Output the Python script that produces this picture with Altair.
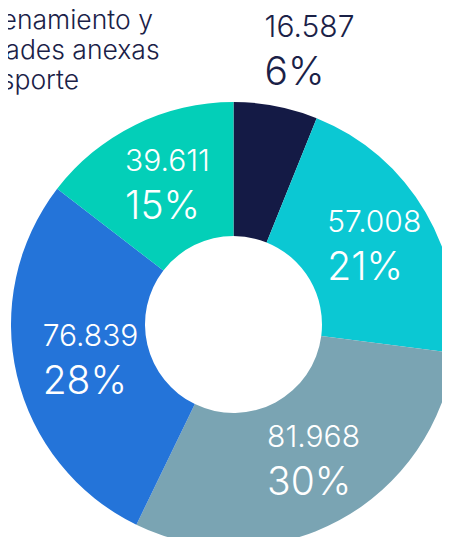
import altair as alt
import pandas as pd

# ---- data ----
order_idx = [0, 1, 2, 3, 4]
values = [16587, 57008, 81968, 76839, 39611]
num_labels = ["16.587", "57.008", "81.968", "76.839", "39.611"]
pct_labels = ["6%", "21%", "30%", "28%", "15%"]
colors = ["#141a45", "#0bc8d3", "#7aa4b3", "#2474d9", "#03cfb8"]
category_lines = ["Almacenamiento y", "actividades anexas", "al transporte"]

FONT = "Inter"
NAVY = "#1a2147"

df = pd.DataFrame({"idx": order_idx, "value": values, "num": num_labels, "pct": pct_labels})

base = alt.Chart(df).encode(
    theta=alt.Theta("value:Q", stack=True),
    order=alt.Order("idx:Q"),
    x=alt.value(225.5),
    y=alt.value(316.5),
)

arcs = base.mark_arc(innerRadius=88.5, outerRadius=222.5).encode(
    color=alt.Color("idx:N", scale=alt.Scale(domain=order_idx, range=colors), legend=None)
)

inner_num = base.transform_calculate(t="datum.idx == 0 ? '' : datum.num").mark_text(
    radius=155, align="left", baseline="alphabetic", dx=-40, dy=-14,
    fontSize=30, font=FONT, fontWeight=300, color="white"
).encode(text="t:N")

inner_pct = base.transform_calculate(t="datum.idx == 0 ? '' : datum.pct").mark_text(
    radius=155, align="left", baseline="alphabetic", dx=-40, dy=34,
    fontSize=39, font=FONT, fontWeight=300, color="white"
).encode(text="t:N")

outer_num = base.transform_calculate(t="datum.idx == 0 ? datum.num : ''").mark_text(
    radius=279, align="left", baseline="alphabetic", dx=-22, dy=-14,
    fontSize=30, font=FONT, fontWeight=300, color=NAVY
).encode(text="t:N")

outer_pct = base.transform_calculate(t="datum.idx == 0 ? datum.pct : ''").mark_text(
    radius=279, align="left", baseline="alphabetic", dx=-22, dy=34,
    fontSize=39, font=FONT, fontWeight=300, color=NAVY
).encode(text="t:N")

cat_df = pd.DataFrame({"t": ["\n".join(category_lines)]})
category = alt.Chart(cat_df).mark_text(
    align="left", baseline="alphabetic", lineBreak="\n", lineHeight=30,
    fontSize=26.5, font=FONT, fontWeight=300, color=NAVY
).encode(text="t:N", x=alt.value(-83), y=alt.value(21.3))

chart = alt.layer(arcs, inner_num, inner_pct, outer_num, outer_pct, category).properties(
    width=434, height=529, autosize=alt.AutoSizeParams(type="none"), padding=0
).configure_view(strokeWidth=0)

chart.save("out.html", embed_options={"renderer": "svg", "actions": False})
